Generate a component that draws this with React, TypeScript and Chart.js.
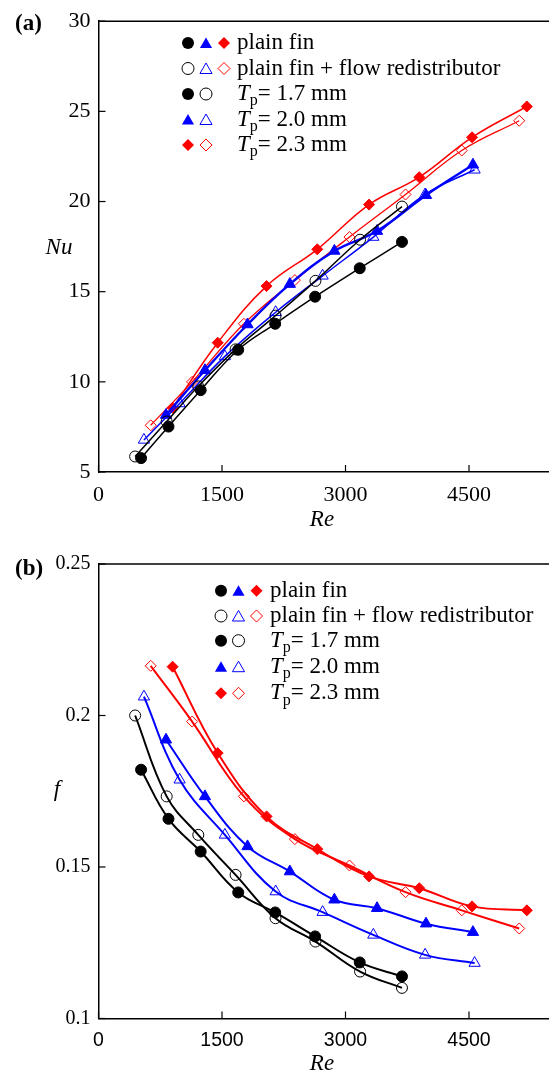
import React, { useEffect, useRef } from "react";
import { Chart, registerables } from "chart.js";
Chart.register(...registerables);

// ---------- data ----------
const reFilled17 = [517, 850, 1241, 1697, 2146, 2631, 3173, 3686];
const reOpen17 = [445, 828, 1212, 1665, 2150, 2635, 3177, 3686];
const reFilled20 = [820, 1293, 1810, 2324, 2865, 3383, 3978, 4548];
const reOpen20 = [552, 985, 1535, 2152, 2722, 3338, 3967, 4568];
const reFilled23 = [900, 1448, 2041, 2657, 3286, 3896, 4537, 5202];
const reOpen23 = [634, 1137, 1766, 2385, 3048, 3729, 4412, 5110];

const nuFilled17 = [5.77, 7.52, 9.54, 11.78, 13.22, 14.72, 16.3, 17.76];
const nuOpen17 = [5.86, 7.8, 9.75, 11.8, 13.67, 15.6, 17.88, 19.72];
const nuFilled20 = [8.16, 10.64, 13.18, 15.42, 17.26, 18.36, 20.35, 22.04];
const nuOpen20 = [6.78, 8.8, 11.41, 13.86, 15.88, 18.03, 20.39, 21.76];
const nuFilled23 = [8.56, 12.17, 15.31, 17.35, 19.83, 21.35, 23.56, 25.27];
const nuOpen23 = [7.59, 10.0, 13.22, 15.64, 18.03, 20.39, 22.83, 24.48];

const fFilled17 = [0.1821, 0.1659, 0.1551, 0.1416, 0.135, 0.1271, 0.1185, 0.1139];
const fOpen17 = [0.2, 0.1733, 0.1606, 0.1474, 0.1331, 0.1254, 0.1155, 0.1101];
const fFilled20 = [0.192, 0.1733, 0.1568, 0.1485, 0.1392, 0.1364, 0.1313, 0.1285];
const fOpen20 = [0.2062, 0.1788, 0.1606, 0.1419, 0.1351, 0.1276, 0.121, 0.1183];
const fFilled23 = [0.2161, 0.1876, 0.1667, 0.1559, 0.1469, 0.143, 0.137, 0.1357];
const fOpen23 = [0.2164, 0.198, 0.1733, 0.1592, 0.1505, 0.1417, 0.1357, 0.1297];

const xTicks = [0, 1500, 3000, 4500];
const nuTicks = [5, 10, 15, 20, 25, 30];
const fTicks = [0.1, 0.15, 0.2, 0.25];

const legendLabels = ["plain fin", "plain fin + flow redistributor"];
const legendTp = ["1.7", "2.0", "2.3"];

// ---------- style ----------
const BLACK = "#000000";
const BLUE = "#0000ff";
const RED = "#ff0000";
const SERIF = '"Liberation Serif", "Times New Roman", serif';
const SANS = '"Liberation Sans", Arial, sans-serif';
const CW = 600;

function ds(xs: number[], ys: number[], color: string, style: string, filled: boolean, lw: number, r: number) {
  return {
    data: xs.map((x, i) => ({ x, y: ys[i] })),
    showLine: true,
    borderColor: color,
    borderWidth: lw,
    pointStyle: style,
    pointRadius: r,
    pointHoverRadius: r,
    pointBackgroundColor: filled ? color : "rgba(0,0,0,0)",
    pointBorderColor: color,
    pointBorderWidth: 1,
    tension: 0.4,
    fill: false,
  };
}

function drawMarker(ctx: CanvasRenderingContext2D, kind: string, filled: boolean, color: string, x: number, y: number, r: number) {
  ctx.save();
  ctx.beginPath();
  if (kind === "circle") {
    ctx.arc(x, y, r, 0, Math.PI * 2);
  } else if (kind === "triangle") {
    const h = r * 1.5;
    const w = r * 1.732;
    ctx.moveTo(x, y - r);
    ctx.lineTo(x + w / 2, y - r + h);
    ctx.lineTo(x - w / 2, y - r + h);
    ctx.closePath();
  } else {
    ctx.moveTo(x, y - r);
    ctx.lineTo(x + r, y);
    ctx.lineTo(x, y + r);
    ctx.lineTo(x - r, y);
    ctx.closePath();
  }
  if (filled) {
    ctx.fillStyle = color;
    ctx.fill();
  } else {
    ctx.strokeStyle = color;
    ctx.lineWidth = 1;
    ctx.stroke();
  }
  ctx.restore();
}

type Panel = {
  label: string;
  labelY: number;
  yTitle: string;
  yTitleX: number;
  yTitleY: number;
  xTitleX: number;
  xTitleY: number;
  mx: number[];
  textX: number;
  rows: number[];
  yTickVals: number[];
};

function decorPlugin(p: Panel) {
  return {
    id: "decor",
    afterDraw(chart: any) {
      const ctx: CanvasRenderingContext2D = chart.ctx;
      const a = chart.chartArea;
      const xs = chart.scales.x;
      const ys = chart.scales.y;
      ctx.save();
      ctx.strokeStyle = "#000";
      ctx.lineWidth = 1.5;
      // top border
      ctx.beginPath();
      ctx.moveTo(a.left, a.top);
      ctx.lineTo(a.right, a.top);
      ctx.stroke();
      // inner ticks
      ctx.lineWidth = 1.2;
      xTicks.forEach((v) => {
        const px = xs.getPixelForValue(v);
        ctx.beginPath();
        ctx.moveTo(px, a.bottom);
        ctx.lineTo(px, a.bottom - 7);
        ctx.stroke();
      });
      p.yTickVals.forEach((v) => {
        const py = ys.getPixelForValue(v);
        ctx.beginPath();
        ctx.moveTo(a.left, py);
        ctx.lineTo(a.left + 7, py);
        ctx.stroke();
      });
      // panel label
      ctx.fillStyle = "#000";
      ctx.textBaseline = "middle";
      ctx.textAlign = "left";
      ctx.font = `bold 23px ${SERIF}`;
      ctx.fillText(p.label, 15, p.labelY);
      // axis titles
      ctx.textAlign = "center";
      ctx.font = `italic 23px ${SERIF}`;
      ctx.fillText(p.yTitle, p.yTitleX, p.yTitleY);
      ctx.fillText("Re", p.xTitleX, p.xTitleY);
      // legend
      const [m1, m2, m3] = p.mx;
      const r = 6;
      const rowsMarkers: [string, boolean, string, number][][] = [
        [["circle", true, BLACK, m1], ["triangle", true, BLUE, m2], ["diamond", true, RED, m3]],
        [["circle", false, BLACK, m1], ["triangle", false, BLUE, m2], ["diamond", false, RED, m3]],
        [["circle", true, BLACK, m1], ["circle", false, BLACK, m2]],
        [["triangle", true, BLUE, m1], ["triangle", false, BLUE, m2]],
        [["diamond", true, RED, m1], ["diamond", false, RED, m2]],
      ];
      rowsMarkers.forEach((row, i) => {
        const y = p.rows[i];
        row.forEach(([k, f, c, x]) => {
          const yy = k === "triangle" ? y + 1.5 : y;
          drawMarker(ctx, k, f, c, x, yy, k === "triangle" ? 7 : r);
        });
      });
      ctx.textAlign = "left";
      ctx.fillStyle = "#000";
      ctx.font = `23px ${SERIF}`;
      ctx.fillText(legendLabels[0], p.textX, p.rows[0]);
      ctx.fillText(legendLabels[1], p.textX, p.rows[1]);
      legendTp.forEach((tp, i) => {
        const y = p.rows[i + 2];
        let x = p.textX;
        ctx.font = `italic 23px ${SERIF}`;
        ctx.fillText("T", x, y);
        x += ctx.measureText("T").width;
        ctx.font = `16px ${SERIF}`;
        ctx.fillText("p", x, y + 7);
        x += ctx.measureText("p").width;
        ctx.font = `23px ${SERIF}`;
        ctx.fillText(`= ${tp} mm`, x, y);
      });
      ctx.restore();
    },
  };
}

function makeConfig(
  datasets: any[],
  yMin: number,
  yMax: number,
  yTickVals: number[],
  padTop: number,
  xAxisH: number,
  xTickFont: any,
  xPad: number,
  yTickFont: any,
  p: Panel
) {
  return {
    type: "scatter",
    data: { datasets },
    options: {
      responsive: false,
      animation: false,
      devicePixelRatio: 1,
      layout: { padding: { left: 0, top: padTop, right: 6.8, bottom: 0 } },
      plugins: { legend: { display: false }, tooltip: { enabled: false } },
      scales: {
        x: {
          type: "linear",
          min: 0,
          max: 6000,
          afterBuildTicks: (s: any) => {
            s.ticks = xTicks.map((v) => ({ value: v }));
          },
          afterFit: (s: any) => {
            s.height = xAxisH;
          },
          grid: { display: false, drawTicks: false },
          border: { display: true, color: "#000", width: 1.5 },
          ticks: {
            color: "#000",
            font: xTickFont,
            padding: xPad,
            maxRotation: 0,
            autoSkip: false,
            callback: (v: any) => String(v),
          },
        },
        y: {
          type: "linear",
          min: yMin,
          max: yMax,
          afterBuildTicks: (s: any) => {
            s.ticks = yTickVals.map((v) => ({ value: v }));
          },
          afterFit: (s: any) => {
            s.width = 98.5;
          },
          grid: { display: false, drawTicks: false },
          border: { display: true, color: "#000", width: 1.5 },
          ticks: {
            color: "#000",
            font: yTickFont,
            padding: 8,
            autoSkip: false,
            callback: (v: any) => String(v),
          },
        },
      },
    },
    plugins: [decorPlugin(p)],
  };
}

function ChartCanvas({ config, top, height }: { config: () => any; top: number; height: number }) {
  const ref = useRef<HTMLCanvasElement | null>(null);
  useEffect(() => {
    if (!ref.current) return;
    const chart = new Chart(ref.current, config());
    return () => chart.destroy();
  }, []);
  return (
    <canvas
      ref={ref}
      width={CW}
      height={height}
      style={{ position: "absolute", left: 0, top, width: CW, height, display: "block" }}
    />
  );
}

export default function App() {
  const topConfig = () =>
    makeConfig(
      [
        ds(reFilled17, nuFilled17, BLACK, "circle", true, 1.5, 5.5),
        ds(reOpen17, nuOpen17, BLACK, "circle", false, 1.5, 5.5),
        ds(reFilled20, nuFilled20, BLUE, "triangle", true, 2.4, 6.5),
        ds(reOpen20, nuOpen20, BLUE, "triangle", false, 1.5, 6.5),
        ds(reFilled23, nuFilled23, RED, "rectRot", true, 1.5, 5.5),
        ds(reOpen23, nuOpen23, RED, "rectRot", false, 1.3, 5.5),
      ],
      5,
      30,
      nuTicks,
      19.5,
      68,
      { family: SERIF, size: 22 },
      10,
      { family: SERIF, size: 22 },
      {
        label: "(a)",
        labelY: 24,
        yTitle: "Nu",
        yTitleX: 59,
        yTitleY: 248,
        xTitleX: 322,
        xTitleY: 520,
        mx: [188, 206, 224],
        textX: 237,
        rows: [43, 68.5, 94, 119.5, 145],
        yTickVals: nuTicks,
      }
    );
  const botConfig = () =>
    makeConfig(
      [
        ds(reFilled17, fFilled17, BLACK, "circle", true, 2, 5.5),
        ds(reOpen17, fOpen17, BLACK, "circle", false, 2, 5.5),
        ds(reFilled20, fFilled20, BLUE, "triangle", true, 2, 6.5),
        ds(reOpen20, fOpen20, BLUE, "triangle", false, 2, 6.5),
        ds(reFilled23, fFilled23, RED, "rectRot", true, 2, 5.5),
        ds(reOpen23, fOpen23, RED, "rectRot", false, 2, 5.5),
      ],
      0.1,
      0.25,
      fTicks,
      34,
      54.5,
      { family: SANS, size: 19.5 },
      10,
      { family: SERIF, size: 20 },
      {
        label: "(b)",
        labelY: 39,
        yTitle: "f",
        yTitleX: 57,
        yTitleY: 260,
        xTitleX: 322,
        xTitleY: 534,
        mx: [221, 238.5, 256.5],
        textX: 270,
        rows: [60.7, 86, 110.7, 136.7, 163.3],
        yTickVals: fTicks,
      }
    );
  return (
    <div
      style={{
        position: "fixed",
        left: 0,
        top: 0,
        width: 549,
        height: 1073,
        overflow: "hidden",
        background: "#fff",
      }}
    >
      <ChartCanvas config={topConfig} top={0} height={540} />
      <ChartCanvas config={botConfig} top={530} height={543} />
    </div>
  );
}
